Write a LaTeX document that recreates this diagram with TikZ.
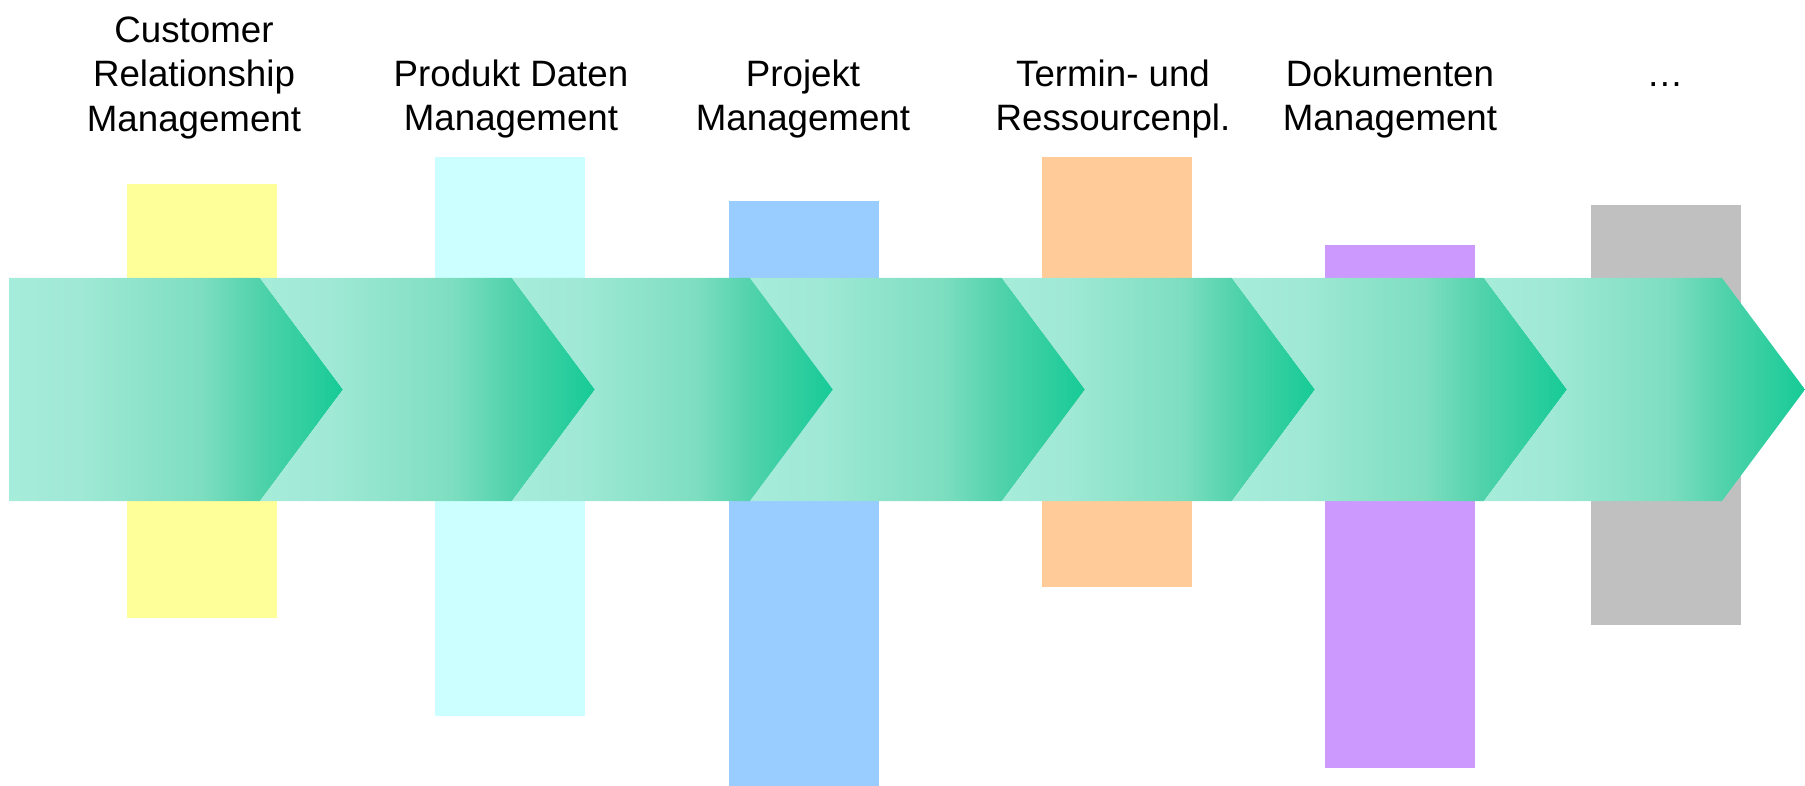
\documentclass[tikz,border=0pt]{standalone}
\usepackage{fontspec}
\setmainfont{Liberation Sans}
\definecolor{cA}{RGB}{166,236,218}
\definecolor{cB}{RGB}{160,233,214}
\definecolor{cC}{RGB}{126,222,192}
\definecolor{cD}{RGB}{80,210,171}
\definecolor{cE}{RGB}{22,203,150}
\definecolor{barY}{HTML}{FFFF99}
\definecolor{barC}{HTML}{CCFFFF}
\definecolor{barB}{HTML}{99CCFF}
\definecolor{barO}{HTML}{FFCC99}
\definecolor{barP}{HTML}{CC99FF}
\definecolor{barG}{HTML}{C0C0C0}
\pgfdeclarehorizontalshading{chevshade}{100bp}{color(0bp)=(cA); color(25bp)=(cA); color(35bp)=(cB); color(53.5bp)=(cC); color(62.5bp)=(cD); color(75bp)=(cE); color(100bp)=(cE)}
\tikzset{
  barbox/.style={draw=none},
  chev/.style={shading=chevshade, shading angle=0, draw=none},
  lbl/.style={anchor=base, inner sep=0pt, text=black, font=\fontsize{36.7}{44.3}\selectfont}
}
\begin{document}
\begin{tikzpicture}[x=1pt,y=-1pt]
\useasboundingbox (0,0) rectangle (1805,786);
% bars
\fill[barbox, barY] (127,184) rectangle (277,618);
\fill[barbox, barC] (435,157) rectangle (585,716);
\fill[barbox, barB] (729,201) rectangle (879,786);
\fill[barbox, barO] (1042,157) rectangle (1192,587);
\fill[barbox, barP] (1325,245) rectangle (1475,768);
\fill[barbox, barG] (1591,205) rectangle (1741,625);
% chevrons
\path[chev] (9,278) -- (260,278) -- (343,389.5) -- (260,501) -- (9,501) -- cycle;
\foreach \l/\r in {260/512, 512/750, 750/1002, 1002/1232, 1232/1484, 1484/1722}{
  \path[chev] (\l,278) -- (\r,278) -- (\r+83,389.5) -- (\r,501) -- (\l,501) -- (\l+83,389.5) -- cycle;
}
% labels
\node[lbl] (t1) at (194,42.5) {\begin{tabular}[t]{@{}c@{}}Customer\\Relationship\\Management\end{tabular}};
\node[lbl] (t2) at (511,86.5) {\begin{tabular}[t]{@{}c@{}}Produkt Daten\\Management\end{tabular}};
\node[lbl] (t3) at (803,86.5) {\begin{tabular}[t]{@{}c@{}}Projekt\\Management\end{tabular}};
\node[lbl] (t4) at (1113,86.5) {\begin{tabular}[t]{@{}c@{}}Termin- und\\Ressourcenpl.\end{tabular}};
\node[lbl] (t5) at (1390,86.5) {\begin{tabular}[t]{@{}c@{}}Dokumenten\\Management\end{tabular}};
\node[lbl] (t6) at (1665,86.5) {…};
\end{tikzpicture}
\end{document}
